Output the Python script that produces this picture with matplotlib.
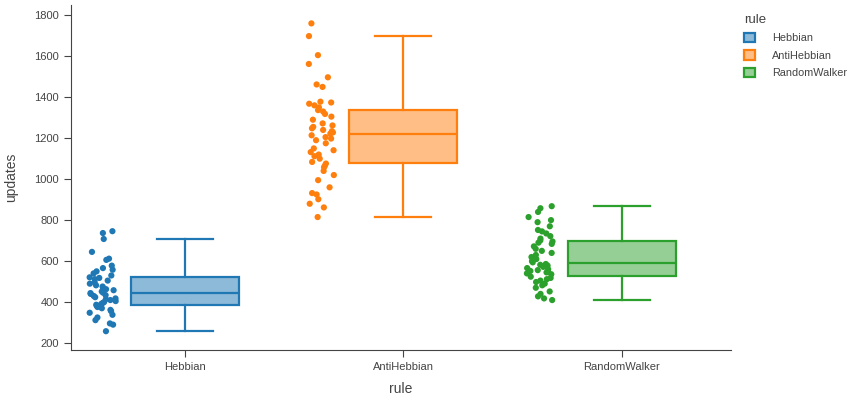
import numpy as np
import matplotlib.pyplot as plt
from matplotlib.patches import Patch

plt.rcParams["font.family"] = ["Liberation Sans", "DejaVu Sans"]

rules = ["Hebbian", "AntiHebbian", "RandomWalker"]
colors = ["#1f77b4", "#ff7f0e", "#2ca02c"]

hebbian = [258, 290, 296, 312, 325, 338, 348, 356, 362, 370, 376, 382, 387, 391,
           396, 400, 405, 410, 414, 418, 424, 430, 434, 440, 444, 446, 452, 458,
           463, 470, 476, 482, 490, 497, 505, 512, 518, 521, 530, 540, 550, 558,
           566, 578, 606, 612, 645, 708, 737, 746]
antihebbian = [815, 862, 880, 902, 925, 932, 960, 995, 1020, 1040, 1058, 1066, 1076,
               1084, 1100, 1112, 1120, 1132, 1141, 1150, 1175, 1190, 1198, 1205,
               1214, 1222, 1228, 1234, 1240, 1248, 1255, 1262, 1272, 1290, 1305,
               1318, 1330, 1337, 1350, 1360, 1368, 1374, 1378, 1450, 1462, 1497,
               1562, 1605, 1698, 1760]
randomwalker = [410, 418, 428, 440, 452, 470, 482, 490, 498, 505, 512, 518, 524, 536,
                540, 545, 548, 552, 556, 560, 566, 572, 578, 582, 586, 594, 600, 610,
                620, 630, 640, 650, 660, 672, 684, 690, 696, 701, 710, 722, 735, 745,
                752, 770, 790, 800, 815, 840, 858, 868]
groups = [hebbian, antihebbian, randomwalker]

fig = plt.figure(figsize=(8.53, 3.96), dpi=100)
ax = fig.add_axes([0.0832, 0.116, 0.774, 0.871])

rng = np.random.default_rng(7)
for i, (vals, c) in enumerate(zip(groups, colors)):
    vals = np.array(vals)
    ax.boxplot(vals, positions=[i], widths=0.494, patch_artist=True,
               showfliers=False, whis=1.5,
               boxprops=dict(facecolor=c + "80", edgecolor=c, linewidth=1.6),
               medianprops=dict(color=c, linewidth=1.6),
               whiskerprops=dict(color=c, linewidth=1.6),
               capprops=dict(color=c, linewidth=1.6), capwidths=0.256)
    jit = rng.uniform(-0.06, 0.06, len(vals))
    ax.scatter(i - 0.375 + jit, vals, s=20, color=c, edgecolors="none", zorder=3)

ax.set_xlim(-0.52, 2.50)
ax.set_ylim(166, 1849)
ax.set_xticks(range(3))
ax.set_xticklabels(rules)
ax.set_yticks(range(200, 1801, 200))
for s in ["top", "right"]:
    ax.spines[s].set_visible(False)
for s in ["left", "bottom"]:
    ax.spines[s].set_color("#444444")
ax.tick_params(colors="#444444", labelsize=8, length=5, width=0.8)
ax.set_xlabel("rule", fontsize=10, color="#444444", labelpad=7)
ax.set_ylabel("updates", fontsize=10, color="#444444", labelpad=12)

handles = [Patch(facecolor=c + "80", edgecolor=c, linewidth=1.6, label=r)
           for r, c in zip(rules, colors)]
leg = fig.legend(handles=handles, title="rule", loc="upper left",
                 bbox_to_anchor=(0.863, 0.985), frameon=False, fontsize=7.8,
                 title_fontsize=9.5, handlelength=1.0, handleheight=1.0,
                 handletextpad=1.6, labelspacing=0.65, alignment="left",
                 borderpad=0.2)
for t in leg.get_texts():
    t.set_color("#444444")
leg.get_title().set_color("#444444")

fig.savefig("out.png", dpi=100)
